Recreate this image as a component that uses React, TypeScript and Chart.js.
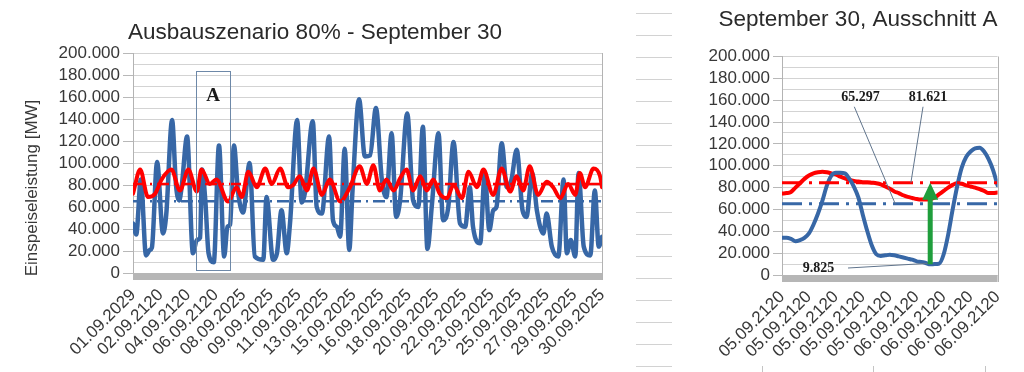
import React, { useEffect, useRef } from "react";
import { Chart, registerables } from "chart.js";

Chart.register(...registerables);

const FONT = '"Liberation Sans", Arial, sans-serif';
const SERIF = '"Liberation Serif", "Times New Roman", serif';
const BLUE = "#3767a6";
const RED = "#ff0000";
const TEXT = "#383838";

// ---------- Left chart: whole month (x in hours from 01.09 00:00) ----------
const mainTitle = "Ausbauszenario 80% - September 30";
const yAxisTitle = "Einspeiseleistung [MW]";
const mainXLabels = [
  "01.09.2029", "02.09.2120", "04.09.2120", "06.09.2120", "08.09.2025", "09.09.2025",
  "11.09.2025", "13.09.2025", "15.09.2025", "16.09.2025", "18.09.2025", "20.09.2025",
  "22.09.2025", "23.09.2025", "25.09.2025", "27.09.2025", "29.09.2025", "30.09.2025",
];
const mainHoursTotal = 720;

const blueHours = [
  0, 5, 12, 20, 26, 29, 37, 46, 51, 60, 66, 71, 75, 83, 92, 98, 103, 106, 111, 116,
  124, 132, 140, 145, 149, 155, 161, 169, 179, 187, 200, 205, 215, 221, 228, 236, 241, 252, 259, 264,
  276, 282, 290, 301, 307, 313, 318, 325, 332, 337, 347, 356, 364, 373, 382, 389, 397, 404, 410, 421,
  430, 438, 445, 452, 459, 469, 476, 484, 492, 502, 510, 517, 522, 533, 540, 547, 553, 558, 566, 574,
  581, 589, 598, 604, 613, 620, 630, 635, 643, 653, 661, 666, 672, 679, 684, 692, 702, 709, 715, 720,
];
const blueValues = [
  45000, 35000, 85000, 16000, 21000, 23000, 101000, 36000, 53000, 139000, 80000, 66000, 80000, 124000, 18000, 30000, 32000, 94000, 66000, 18000,
  9825, 116000, 15000, 42000, 44000, 116000, 75000, 55000, 100000, 15000, 12000, 69000, 12000, 18000, 57000, 18000, 45000, 139000, 64000, 73000,
  138000, 60000, 54000, 124000, 48000, 42000, 33000, 113000, 21000, 75000, 158000, 106000, 107000, 150000, 85000, 69000, 127000, 51000, 66000, 145000,
  66000, 60000, 133000, 22000, 63000, 127000, 48000, 60000, 119000, 45000, 42000, 78000, 42000, 27000, 91000, 39000, 57000, 60000, 118000, 78000,
  85000, 112000, 57000, 51000, 91000, 57000, 36000, 54000, 24000, 15000, 85000, 18000, 30000, 15000, 91000, 24000, 16000, 75000, 24000, 33000,
];

const redHours = [
  0, 11, 23, 34, 44, 59, 72, 85, 98, 105, 118, 128, 146, 159, 167, 177, 190, 203, 213, 226,
  238, 246, 256, 267, 277, 290, 302, 318, 333, 348, 359, 369, 379, 389, 400, 410, 420, 430, 441, 451,
  461, 471, 482, 492, 505, 515, 528, 538, 553, 566, 579, 589, 599, 609, 622, 635, 645, 656, 668, 679,
  686, 694, 707, 717, 720,
];
const redValues = [
  72000, 94000, 69000, 72000, 85000, 94000, 75000, 94000, 74000, 94000, 81000, 85000, 65000, 78000, 69000, 92000, 78000, 95000, 81000, 95000,
  78000, 80000, 88000, 75000, 95000, 71000, 85000, 65000, 78000, 97000, 81000, 98000, 75000, 85000, 75000, 86000, 94000, 75000, 88000, 75000,
  85000, 72000, 68000, 80000, 68000, 92000, 78000, 94000, 71000, 95000, 74000, 88000, 75000, 97000, 71000, 83000, 78000, 68000, 81000, 71000,
  91000, 78000, 95000, 88000, 78000,
];
const mainBlueAverage = 65297;
const mainRedAverage = 81000;
const boxAHours = [97, 149];
const boxAValues = [2700, 183600];
const boxALabel = "A";

// ---------- Right chart: Ausschnitt A (hourly) ----------
const zoomTitle = "September 30, Ausschnitt A";
const zoomXLabels = [
  "05.09.2120", "05.09.2120", "05.09.2120", "05.09.2120", "05.09.2120",
  "06.09.2120", "06.09.2120", "06.09.2120", "06.09.2120",
];
const zoomHours = 48;
const zoomBlue = [
  34000, 34000, 33000, 31000, 32000, 34000, 38000, 46000, 56000, 68000,
  82000, 91000, 93500, 93500, 93000, 88000, 81000, 71000, 55000, 40000,
  27000, 19000, 17500, 18000, 18500, 18000, 17000, 16000, 15000, 14000,
  12500, 12000, 11000, 9825, 10000, 10500, 19000, 37000, 60000, 81000,
  98000, 108000, 113000, 116000, 116500, 113000, 106000, 96000, 82000,
];
const zoomRed = [
  74500, 75000, 76000, 80000, 84000, 88000, 91000, 93000, 94000, 94500,
  94000, 93000, 92000, 90000, 88500, 87000, 86000, 85500, 85000, 85000,
  84500, 84000, 83000, 81000, 79000, 76500, 75000, 73000, 71500, 70500,
  69500, 69000, 69000, 69500, 71000, 74000, 77000, 80000, 82500, 84000,
  83500, 82000, 81000, 80000, 78500, 77000, 75000, 75000, 75500,
];
const zoomBlueAverage = 65297;
const zoomRedAverage = 84500;
const zoomMinHour = 33;
const zoomMinValue = 9825;
const zoomBlueLabel = "65.297";
const zoomRedLabel = "81.621";
const zoomMinLabel = "9.825";

const fmt = (v: number) =>
  Math.round(v).toString().replace(/\B(?=(\d{3})+(?!\d))/g, ".");

function yScale(width: number, tickLen: number) {
  return {
    min: 0,
    max: 200000,
    ticks: {
      stepSize: 10000,
      autoSkip: false,
      color: TEXT,
      font: { family: FONT, size: 17 },
      padding: 3,
      callback: (v: number) => (v % 20000 === 0 ? fmt(v) : ""),
    },
    grid: {
      color: "#d3d3d3",
      lineWidth: 1,
      drawTicks: true,
      tickLength: tickLen,
      tickColor: (c: any) => (c.tick && c.tick.value % 20000 === 0 ? "#b8b8b8" : "rgba(0,0,0,0)"),
    },
    border: { display: true, color: "#b3b3b3" },
    afterFit: (s: any) => {
      s.width = width;
    },
  };
}

function xScale(labels: string[], max: number, height: number, pad: number) {
  return {
    type: "linear",
    min: 0,
    max,
    grid: { display: false, drawTicks: false },
    border: { display: false },
    afterBuildTicks: (s: any) => {
      s.ticks = labels.map((_, i) => ({ value: (i * max) / (labels.length - 1) }));
    },
    ticks: {
      autoSkip: false,
      minRotation: 45,
      maxRotation: 45,
      padding: pad,
      color: TEXT,
      font: { family: FONT, size: 17 },
      callback: (_v: number, i: number) => labels[i],
    },
    afterFit: (s: any) => {
      s.height = height;
    },
  };
}

const frame = (id: string, title: string, cx: number, cy: number) => ({
  id,
  beforeDatasetsDraw(chart: any) {
    const { ctx, chartArea: a } = chart;
    ctx.save();
    ctx.fillStyle = "#b6b6b6";
    ctx.fillRect(a.left, a.bottom, a.right - a.left, 7);
    ctx.strokeStyle = "#b3b3b3";
    ctx.lineWidth = 1;
    ctx.beginPath();
    ctx.moveTo(Math.round(a.right) + 0.5, a.top);
    ctx.lineTo(Math.round(a.right) + 0.5, a.bottom + 7);
    ctx.stroke();
    ctx.restore();
  },
  afterDraw(chart: any) {
    const { ctx } = chart;
    ctx.save();
    ctx.fillStyle = "#2a2a2a";
    ctx.font = `22.5px ${FONT}`;
    ctx.textAlign = "center";
    ctx.textBaseline = "middle";
    ctx.fillText(title, cx, cy);
    ctx.restore();
  },
});

const leftDecor = {
  id: "leftDecor",
  afterDatasetsDraw(chart: any) {
    const { ctx } = chart;
    const xs = chart.scales.x;
    const ys = chart.scales.y;
    const x0 = xs.getPixelForValue(boxAHours[0]);
    const x1 = xs.getPixelForValue(boxAHours[1]);
    const y0 = ys.getPixelForValue(boxAValues[1]);
    const y1 = ys.getPixelForValue(boxAValues[0]);
    ctx.save();
    ctx.strokeStyle = "#6d88a8";
    ctx.lineWidth = 1;
    ctx.strokeRect(Math.round(x0) + 0.5, Math.round(y0) + 0.5, Math.round(x1 - x0), Math.round(y1 - y0));
    ctx.fillStyle = "#1a1a1a";
    ctx.font = `bold 19px ${SERIF}`;
    ctx.textAlign = "center";
    ctx.textBaseline = "middle";
    ctx.fillText(boxALabel, (x0 + x1) / 2, ys.getPixelForValue(161000));
    ctx.restore();
  },
  afterDraw(chart: any) {
    const { ctx } = chart;
    ctx.save();
    ctx.translate(32, 188);
    ctx.rotate(-Math.PI / 2);
    ctx.fillStyle = TEXT;
    ctx.font = `17px ${FONT}`;
    ctx.textAlign = "center";
    ctx.textBaseline = "middle";
    ctx.fillText(yAxisTitle, 0, 0);
    ctx.restore();
  },
};

const rightDecor = {
  id: "rightDecor",
  afterDatasetsDraw(chart: any) {
    const { ctx } = chart;
    const xs = chart.scales.x;
    const ys = chart.scales.y;
    const px = (h: number) => xs.getPixelForValue(h);
    const py = (v: number) => ys.getPixelForValue(v);
    ctx.save();
    ctx.strokeStyle = "#60748c";
    ctx.lineWidth = 1;
    const lines: [number, number, number, number][] = [
      [16.1, 154000, 25.2, zoomBlueAverage],
      [31.4, 154000, 28.7, zoomRedAverage],
      [14.7, 6400, zoomMinHour - 0.6, zoomMinValue + 800],
    ];
    lines.forEach(([a, b, c, d]) => {
      ctx.beginPath();
      ctx.moveTo(px(a), py(b));
      ctx.lineTo(px(c), py(d));
      ctx.stroke();
    });
    const ax = px(zoomMinHour);
    const yBottom = py(zoomMinValue);
    const yTip = py(zoomRedAverage);
    ctx.fillStyle = "#1f9e3c";
    ctx.fillRect(ax - 2.5, yTip + 15, 5, yBottom - yTip - 15);
    ctx.beginPath();
    ctx.moveTo(ax, yTip);
    ctx.lineTo(ax - 8, yTip + 17);
    ctx.lineTo(ax + 8, yTip + 17);
    ctx.closePath();
    ctx.fill();
    ctx.fillStyle = "#1a1a1a";
    ctx.font = `bold 14px ${SERIF}`;
    ctx.textAlign = "center";
    ctx.textBaseline = "middle";
    ctx.fillText(zoomBlueLabel, px(17.5), py(163000));
    ctx.fillText(zoomRedLabel, px(32.5), py(163000));
    ctx.fillText(zoomMinLabel, px(8.1), py(6400));
    ctx.restore();
  },
};

function lineDs(data: any[], color: string, width: number, extra: any = {}) {
  return {
    data,
    borderColor: color,
    borderWidth: width,
    pointRadius: 0,
    fill: false,
    cubicInterpolationMode: "monotone",
    borderJoinStyle: "round",
    borderCapStyle: "round",
    ...extra,
  };
}

export default function App() {
  const leftRef = useRef<HTMLCanvasElement | null>(null);
  const rightRef = useRef<HTMLCanvasElement | null>(null);

  useEffect(() => {
    Chart.defaults.font.family = FONT;
    const left = new Chart(leftRef.current as HTMLCanvasElement, {
      type: "line",
      data: {
        datasets: [
          lineDs(blueHours.map((h, i) => ({ x: h, y: blueValues[i] })), BLUE, 4.5, { order: 4 }),
          lineDs(redHours.map((h, i) => ({ x: h, y: redValues[i] })), RED, 4, { order: 3 }),
          lineDs([{ x: 0, y: mainBlueAverage }, { x: mainHoursTotal, y: mainBlueAverage }], BLUE, 2.5, {
            order: 2, borderDash: [12, 5, 2, 5], borderCapStyle: "butt",
          }),
          lineDs([{ x: 0, y: mainRedAverage }, { x: mainHoursTotal, y: mainRedAverage }], RED, 2.5, {
            order: 1, borderDash: [12, 5, 2, 5], borderCapStyle: "butt",
          }),
        ],
      },
      options: {
        animation: false,
        responsive: false,
        events: [],
        layout: { padding: { left: 0, right: 28, top: 53, bottom: 0 } },
        plugins: {
          legend: { display: false },
          tooltip: { enabled: false },
          title: { display: false },
        },
        scales: {
          x: xScale(mainXLabels, mainHoursTotal, 99, 12),
          y: yScale(133, 10),
        },
      } as any,
      plugins: [frame("leftFrame", mainTitle, 315, 33), leftDecor],
    } as any);

    const hours = zoomBlue.map((_, i) => i);
    const right = new Chart(rightRef.current as HTMLCanvasElement, {
      type: "line",
      data: {
        datasets: [
          lineDs(hours.map((h) => ({ x: h, y: zoomBlue[h] })), BLUE, 4, { order: 2 }),
          lineDs(hours.map((h) => ({ x: h, y: zoomRed[h] })), RED, 4, { order: 3 }),
          lineDs([{ x: 0, y: zoomBlueAverage }, { x: zoomHours, y: zoomBlueAverage }], BLUE, 3, {
            order: 1, borderDash: [20, 7, 3, 7], borderCapStyle: "butt",
          }),
          lineDs([{ x: 0, y: zoomRedAverage }, { x: zoomHours, y: zoomRedAverage }], RED, 3, {
            order: 1, borderDash: [20, 7, 3, 7], borderCapStyle: "butt",
          }),
        ],
      },
      options: {
        animation: false,
        responsive: false,
        events: [],
        layout: { padding: { left: 0, right: 12, top: 56.5, bottom: 0 } },
        plugins: {
          legend: { display: false },
          tooltip: { enabled: false },
          title: { display: false },
        },
        scales: {
          x: xScale(zoomXLabels, zoomHours, 97, 12),
          y: yScale(90, 9),
        },
      } as any,
      plugins: [frame("rightFrame", zoomTitle, 166, 19.5), rightDecor],
    } as any);

    return () => {
      left.destroy();
      right.destroy();
    };
  }, []);

  const decoLines = Array.from({ length: 17 }, (_, i) => 12.5 + i * 22.12);

  return (
    <div
      style={{
        position: "fixed",
        left: 0,
        top: 0,
        width: 1024,
        height: 372,
        background: "#ffffff",
        overflow: "hidden",
      }}
    >
      <canvas
        ref={leftRef}
        width={630}
        height={372}
        style={{ position: "absolute", left: 0, top: 0, width: 630, height: 372 }}
      />
      {decoLines.map((y, i) => (
        <div
          key={i}
          style={{
            position: "absolute",
            left: 636,
            top: Math.round(y),
            width: 36,
            height: 1,
            background: "#d2d2d2",
          }}
        />
      ))}
      {[762, 873, 985].map((x, i) => (
        <div
          key={"t" + i}
          style={{ position: "absolute", left: x, top: 366, width: 1, height: 6, background: "#c4c4c4" }}
        />
      ))}
      <canvas
        ref={rightRef}
        width={332}
        height={372}
        style={{ position: "absolute", left: 692, top: 0, width: 332, height: 372 }}
      />
    </div>
  );
}
